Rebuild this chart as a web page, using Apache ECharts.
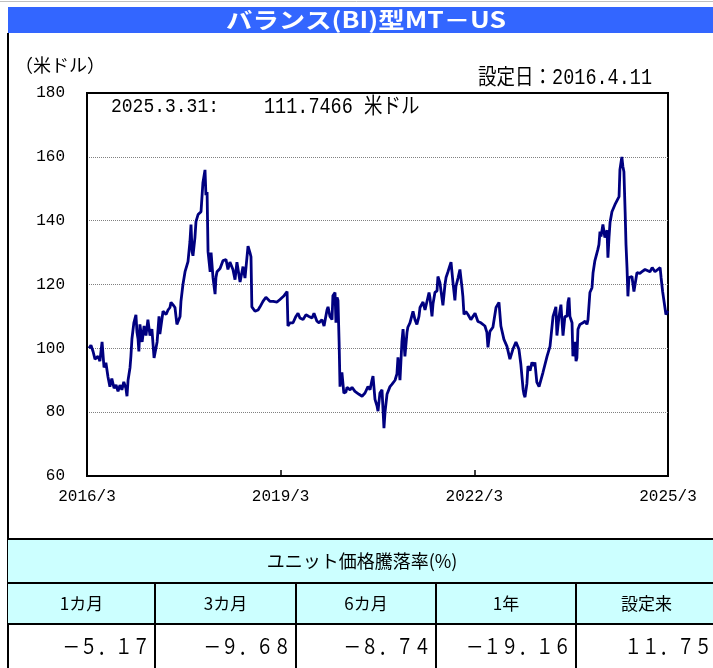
<!DOCTYPE html>
<html>
<head>
<meta charset="utf-8">
<script src="https://cdn.jsdelivr.net/npm/echarts@6/dist/echarts.min.js"></script>
<style>
html,body{margin:0;padding:0;background:#fff;}
#chart{width:713px;height:668px;}
</style>
</head>
<body>
<div id="chart"></div>
<script>
// ---- data ----
const titleText = 'バランス(BI)型MT－US';
const unitLabel = '（米ドル）';
const inceptionLabel = '設定日：2016.4.11';
const latestDate = '2025.3.31:';
const latestValueText = '111.7466 米ドル';
const xTickLabels = ['2016/3', '2019/3', '2022/3', '2025/3'];
const tableTitle = 'ユニット価格騰落率(%)';
const periodLabels = ['1カ月', '3カ月', '6カ月', '1年', '設定来'];
const periodReturns = ['－５．１７', '－９．６８', '－８．７４', '－１９．１６', '１１．７５'];

const dates = [
'2016-04-11','2016-04-22','2016-05-04','2016-05-15','2016-06-01','2016-06-12','2016-06-24','2016-07-05','2016-07-16','2016-07-28',
'2016-08-08','2016-08-19','2016-09-01','2016-09-12','2016-09-23','2016-10-04','2016-10-15','2016-10-26','2016-11-07','2016-11-13',
'2016-11-19','2016-11-30','2016-12-05','2016-12-11','2016-12-22','2017-01-03','2017-01-09','2017-01-15','2017-01-20','2017-01-26',
'2017-02-07','2017-02-17','2017-02-27','2017-03-10','2017-03-22','2017-04-02','2017-04-14','2017-04-19','2017-05-01','2017-05-12',
'2017-05-17','2017-06-04','2017-06-21','2017-07-02','2017-07-13','2017-07-19','2017-07-30','2017-08-11','2017-08-22','2017-09-09',
'2017-09-14','2017-09-25','2017-10-07','2017-10-24','2017-11-04','2017-11-10','2017-11-16','2017-11-21','2017-12-02','2017-12-08',
'2017-12-20','2018-01-06','2018-01-12','2018-01-17','2018-01-29','2018-02-03','2018-02-09','2018-02-14','2018-02-25','2018-03-02',
'2018-03-13','2018-03-25','2018-03-30','2018-04-05','2018-04-22','2018-05-09','2018-05-26','2018-06-06','2018-06-17','2018-07-04',
'2018-07-16','2018-07-27','2018-08-14','2018-08-25','2018-08-31','2018-09-11','2018-09-28','2018-10-09','2018-10-15','2018-10-20',
'2018-11-07','2018-11-24','2018-12-05','2018-12-22','2019-01-08','2019-02-01','2019-02-17','2019-03-10','2019-03-27','2019-04-19',
'2019-05-06','2019-05-11','2019-05-23','2019-06-09','2019-06-25','2019-07-07','2019-07-18','2019-08-05','2019-08-22','2019-09-08',
'2019-09-25','2019-10-06','2019-10-23','2019-11-04','2019-11-20','2019-12-02','2019-12-07','2019-12-19','2019-12-25','2020-01-05',
'2020-01-17','2020-01-22','2020-01-28','2020-02-03','2020-02-08','2020-02-14','2020-02-19','2020-02-25','2020-03-01','2020-03-06',
'2020-03-12','2020-03-23','2020-04-04','2020-04-10','2020-04-27','2020-05-08','2020-05-25','2020-06-17','2020-07-04','2020-07-15',
'2020-07-21','2020-08-01','2020-08-07','2020-08-19','2020-08-30','2020-09-05','2020-09-16','2020-09-27','2020-10-03','2020-10-14',
'2020-10-26','2020-11-06','2020-11-12','2020-11-23','2020-12-10','2020-12-21','2021-01-08','2021-01-19','2021-01-25','2021-02-05',
'2021-02-15','2021-02-21','2021-03-03','2021-03-15','2021-03-20','2021-04-01','2021-04-12','2021-04-18','2021-04-29','2021-05-10',
'2021-05-22','2021-05-28','2021-06-14','2021-06-25','2021-07-06','2021-07-18','2021-07-23','2021-08-04','2021-08-10','2021-08-21',
'2021-09-02','2021-09-07','2021-09-18','2021-09-24','2021-10-05','2021-10-17','2021-10-23','2021-11-03','2021-11-14','2021-11-20',
'2021-12-01','2021-12-12','2021-12-18','2021-12-30','2022-01-10','2022-01-22','2022-01-27','2022-02-02','2022-02-12','2022-02-23',
'2022-03-11','2022-04-04','2022-04-20','2022-05-07','2022-05-30','2022-06-10','2022-06-16','2022-06-27','2022-07-14','2022-08-01',
'2022-08-18','2022-08-29','2022-09-15','2022-10-02','2022-10-19','2022-11-05','2022-11-22','2022-12-09','2022-12-20','2023-01-02',
'2023-01-07','2023-01-13','2023-01-24','2023-01-30','2023-02-10','2023-02-20','2023-03-03','2023-03-08','2023-03-19','2023-04-01',
'2023-04-12','2023-04-23','2023-05-16','2023-06-02','2023-06-19','2023-06-30','2023-07-05','2023-07-11','2023-07-23','2023-08-03',
'2023-08-15','2023-08-26','2023-09-07','2023-09-12','2023-09-18','2023-09-23','2023-10-05','2023-10-10','2023-10-22','2023-10-28',
'2023-11-02','2023-11-08','2023-11-19','2023-12-06','2023-12-18','2023-12-29','2024-01-04','2024-01-15','2024-01-27','2024-02-02',
'2024-02-12','2024-02-28','2024-03-05','2024-03-11','2024-03-17','2024-03-28','2024-04-08','2024-04-20','2024-04-25','2024-05-01',
'2024-05-07','2024-05-18','2024-05-24','2024-06-04','2024-06-15','2024-06-27','2024-07-02','2024-07-13','2024-07-19','2024-07-25',
'2024-08-01','2024-08-06','2024-08-12','2024-08-17','2024-08-23','2024-09-09','2024-09-20','2024-10-07','2024-10-24','2024-11-05',
'2024-11-22','2024-12-03','2024-12-20','2025-01-02','2025-01-18','2025-01-29','2025-02-15','2025-02-20','2025-02-28','2025-03-10',
'2025-03-19','2025-03-25','2025-03-31'
];
const values = [
100,101,99,96.6,97.5,96,102,94,95.5,91,
88,90.5,87.5,88.5,86.5,88.5,87,89.5,87.5,85,
90,94,97.5,103,108,110.5,105,103,99,107.5,
102,107,104,109,104,106,97,96.6,102,110,
104.5,111.6,110.6,112,112.8,114.4,113.7,112.8,107.5,110,
114.7,120,124,127.2,133.4,138.8,130.3,129,134.7,139.7,
141.9,142.8,143,151.9,155.9,148,149,130.3,124,130,
122.2,117,122.2,124,125,127.5,127.8,124.7,127,124.7,
121.5,127,120.8,121,125.6,122,132,130,128.7,113,
111.6,112,113,114.7,116,114.7,114.7,114.5,115.3,116.5,
117.8,107,108,108,110,111,109.5,109,110.5,110,
109.5,111,108.5,108,109,107,106.6,112,113,110,
109,116.5,116.3,117.5,108,116,115,102,88,91.3,
92.5,86,86.3,87.8,87,87.8,86.5,85.6,85,84.7,
86,85.6,88,87,90,91.3,84,82,80.3,86,
87,75,80,85.6,88,88.7,90,92,97.2,90,
102,106,97.5,105,106.6,108,108.4,111.6,109,107.5,
110,112.8,114.5,112,111.6,117.5,116,110,114,117.5,
118,122.5,120.6,121,113.5,120,122.2,124,126,127,
120.6,115,119.4,122,124.7,119,116.3,110.6,111.5,110.6,
109,111,108.4,108,107,105,100.3,105.3,106.6,112.8,
114.4,107,102.8,100.6,96.6,99.7,102,99.7,95,87.2,
85.6,84.7,89,94.4,93,95.6,94.5,95.6,89.4,88,
88,92.5,97.5,100.6,110,112,113,104,110,113.7,
104,110,110,114.4,115.9,110,108,97.5,102,96,
97,106,107.5,108,108.5,107.5,109,117.5,119,123.7,
127.5,131,132.5,136.6,135,138.8,134.7,137,128.4,134.7,
139.4,142.8,142.5,145,145.6,147.5,156,160,157,155.3,
142.8,132.5,125,116.3,122.2,122.5,117.8,123.7,123.5,124,
124.7,124.7,124,125.3,124,124,125.3,122.2,117.8,114,
110.6,110,111.7466
];

// month index: 0 = end of 2016/3, 108 = end of 2025/3
function monthIndex(s) {
  const [y, m, d] = s.split('-').map(Number);
  const dim = new Date(y, m, 0).getDate();
  return (y - 2016) * 12 + (m - 3) + d / dim - 1;
}
const seriesData = dates.map((d, i) => [monthIndex(d), values[i]]);

const monoFont = "'Liberation Mono', 'Noto Sans CJK JP', monospace";
const cjkFont = "'Noto Sans CJK JP', sans-serif";

// table geometry
const colX = [8, 155, 296, 436, 576, 717];
const tTop = 539, r1 = 583, r2 = 624, tBot = 668;

const graphics = [];
graphics.push({type:'line', shape:{x1:0,y1:1.5,x2:713,y2:1.5}, style:{stroke:'#c0c0c0', lineWidth:1}});
graphics.push({type:'rect', shape:{x:8,y:7,width:705,height:26}, style:{fill:'#3366ff'}});
graphics.push({type:'text', x:366, y:20, scaleX:1.2, style:{text:titleText, fill:'#fff', font:"bold 22px 'Noto Sans CJK JP', sans-serif", textAlign:'center', textVerticalAlign:'middle'}});
graphics.push({type:'line', shape:{x1:8,y1:33,x2:8,y2:668}, style:{stroke:'#000', lineWidth:2}});
graphics.push({type:'text', x:15, y:65, style:{text:unitLabel, fill:'#000', font:"18px " + cjkFont, textAlign:'left', textVerticalAlign:'middle'}});
graphics.push({type:'text', x:652, y:78, scaleY:1.15, style:{text:inceptionLabel, fill:'#000', font:"18.5px " + monoFont, textAlign:'right', textVerticalAlign:'middle'}});
graphics.push({type:'text', x:111, y:107, scaleY:1.15, style:{text:latestDate, fill:'#000', font:"18px " + monoFont, textAlign:'left', textVerticalAlign:'middle'}});
graphics.push({type:'text', x:264, y:107, scaleY:1.15, style:{text:latestValueText, fill:'#000', font:"18.5px " + monoFont, textAlign:'left', textVerticalAlign:'middle'}});
graphics.push({type:'rect', shape:{x:8,y:tTop,width:705,height:r2-tTop}, style:{fill:'#ccffff'}});
[tTop, r1, r2].forEach(y => graphics.push({type:'line', shape:{x1:8,y1:y,x2:713,y2:y}, style:{stroke:'#000', lineWidth:2}}));
colX.slice(1, 5).forEach(x => graphics.push({type:'line', shape:{x1:x,y1:r1,x2:x,y2:tBot}, style:{stroke:'#000', lineWidth:2}}));
graphics.push({type:'text', x:362, y:(tTop+r1)/2, style:{text:tableTitle, fill:'#000', font:"18px " + cjkFont, textAlign:'center', textVerticalAlign:'middle'}});
periodLabels.forEach((t, i) => {
  graphics.push({type:'text', x:(colX[i]+colX[i+1])/2, y:(r1+r2)/2, style:{text:t, fill:'#000', font:"17px " + cjkFont, textAlign:'center', textVerticalAlign:'middle'}});
});
periodReturns.forEach((t, i) => {
  graphics.push({type:'text', x:colX[i+1]-5, y:(r2+tBot)/2, scaleY:1.2, style:{text:t, fill:'#000', font:"17.5px " + cjkFont, textAlign:'right', textVerticalAlign:'middle'}});
});

const chart = echarts.init(document.getElementById('chart'), null, {renderer:'canvas'});
chart.setOption({
  animation: false,
  backgroundColor: '#fff',
  grid: {left:87, right:45, top:93, bottom:192, show:true, borderColor:'#000', borderWidth:2, backgroundColor:'#fff'},
  xAxis: {
    type:'value', min:0, max:108, interval:36,
    axisLine:{show:true, lineStyle:{color:'#000', width:2}},
    axisTick:{show:true, inside:true, length:6, lineStyle:{color:'#000', width:1.5}},
    axisLabel:{color:'#000', fontSize:16, fontFamily:monoFont, margin:13, showMinLabel:true, showMaxLabel:true,
      formatter: v => xTickLabels[Math.round(v/36)] || ''},
    splitLine:{show:false}
  },
  yAxis: {
    type:'value', min:60, max:180, interval:20,
    axisLine:{show:true, lineStyle:{color:'#000', width:2}},
    axisTick:{show:false},
    axisLabel:{color:'#000', fontSize:16, fontFamily:monoFont, margin:22},
    splitLine:{show:true, showMinLine:false, showMaxLine:false, lineStyle:{color:'#808080', type:'dotted', width:1}}
  },
  series: [{
    type:'line', data:seriesData, showSymbol:false, symbol:'none',
    lineStyle:{color:'#000080', width:2.8}, z:3
  }],
  graphic: graphics
});
</script>
</body>
</html>
